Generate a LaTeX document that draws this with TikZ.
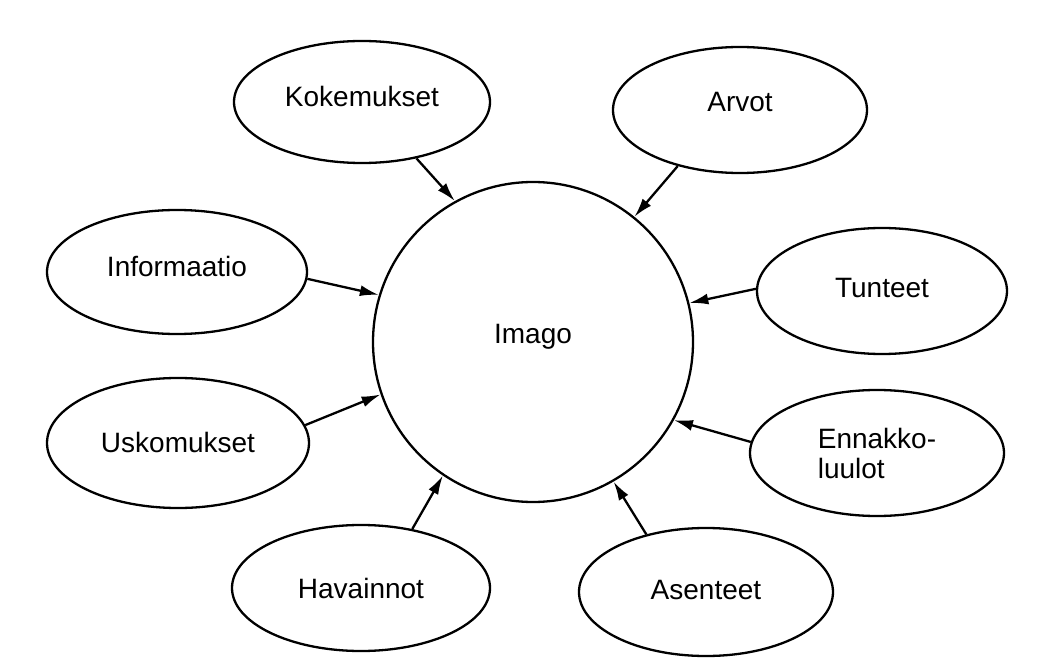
\documentclass[tikz,border=0pt]{standalone}
\usepackage{fontspec}
\setmainfont{Liberation Sans}
\usetikzlibrary{shapes.geometric,arrows.meta}
\begin{document}
\begin{tikzpicture}[x=1pt,y=-1pt,
  every node/.style={font=\fontsize{28}{30}\selectfont},
  bubble/.style={ellipse, draw, line width=2.3pt, inner sep=0pt},
  cap/.style={text height=20pt, text depth=#1},
  feed/.style={-{Latex[length=19pt,width=11pt]}, line width=2.3pt}]
\useasboundingbox[fill=white] (0,0) rectangle (1061,663);

% central concept
\node[circle, draw, line width=2.3pt, minimum size=320pt, inner sep=0pt, cap=18pt]
  (imago) at (533,342) {Imago};

% surrounding factors
\node[bubble, minimum width=256pt, minimum height=122pt, cap=10pt] (kok) at (362,102) {Kokemukset};
\node[bubble, minimum width=254pt, minimum height=126pt, cap=16pt] (arv) at (740,110) {Arvot};
\node[bubble, minimum width=260pt, minimum height=124pt, cap=10pt] (inf) at (177,272) {Informaatio};
\node[bubble, minimum width=262pt, minimum height=130pt, cap=2pt]  (usk) at (178,443) {Uskomukset};
\node[bubble, minimum width=250pt, minimum height=126pt, cap=6pt]  (tun) at (882,291) {Tunteet};
\node[bubble, minimum width=254pt, minimum height=126pt, align=left] (enn) at (877,453) {Ennakko-\\luulot};
\node[bubble, minimum width=258pt, minimum height=126pt, cap=0pt]  (hav) at (361,588) {Havainnot};
\node[bubble, minimum width=254pt, minimum height=128pt, cap=6pt]  (ase) at (706,592) {Asenteet};

% influences on the image
\draw[feed] (kok.314.5) -- (imago.119.3);
\draw[feed] (arv.222.6) -- (imago.51);
\draw[feed] (inf.357.4) -- (imago.163.4);
\draw[feed] (usk.8.9)   -- (imago.199.2);
\draw[feed] (tun.179)   -- (imago.14.7);
\draw[feed] (enn.175.4) -- (imago.331.2);
\draw[feed] (hav.49.2)  -- (imago.236.3);
\draw[feed] (ase.136)   -- (imago.300.2);
\end{tikzpicture}
\end{document}
